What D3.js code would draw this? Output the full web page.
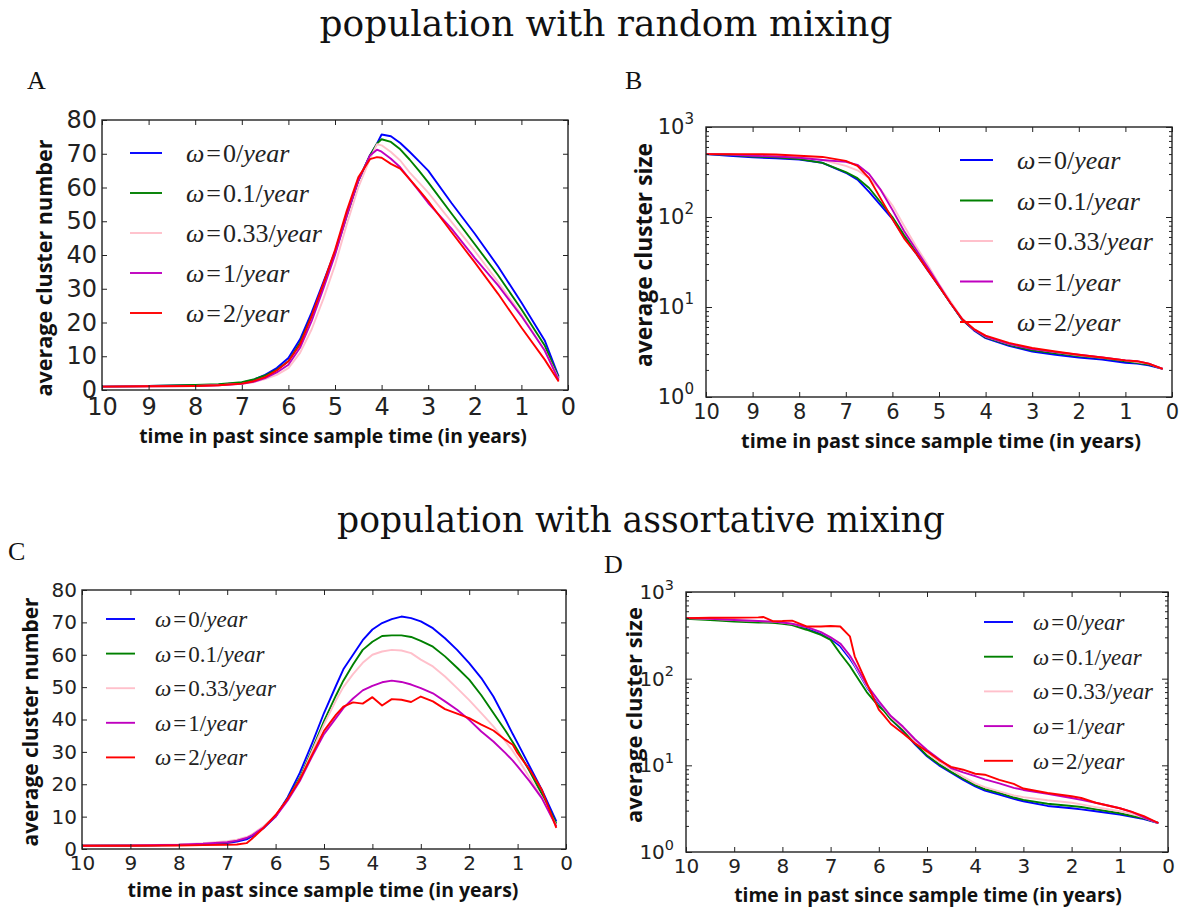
<!DOCTYPE html>
<html><head><meta charset="utf-8">
<script src="https://cdn.jsdelivr.net/npm/d3@7"></script>
<style>body{margin:0;background:#fff} svg{display:block}</style>
</head><body>
<svg id="c" width="1183" height="911"></svg>
<script>
// ---------- data ----------
const omegaValues = ["0", "0.1", "0.33", "1", "2"];
const seriesColors = ["#0000ff", "#008000", "#ffc0cb", "#bf00bf", "#ff0000"];
const xTickValues = [0, 1, 2, 3, 4, 5, 6, 7, 8, 9, 10];
const yTicksLinear = [0, 10, 20, 30, 40, 50, 60, 70, 80];
const yTicksLog = [1, 10, 100, 1000];

// Panel A: random mixing, average cluster number
const timeA = [10, 9, 8, 7.5, 7, 6.75, 6.5, 6.25, 6, 5.75, 5.5, 5.25, 5, 4.75, 4.5, 4.25, 4.1, 4, 3.8, 3.6, 3.4, 3.2, 3, 2.5, 2, 1.5, 1, 0.5, 0.2];
const A_w0   = [1, 1.2, 1.4, 1.6, 2.2, 3, 4.5, 6.5, 9.5, 15, 23, 32, 41, 52, 62, 69.5, 73, 75.7, 75.2, 73.2, 70.6, 67.8, 65, 55.4, 46.3, 36.6, 25.9, 14.7, 4];
const A_w01  = [1, 1.2, 1.5, 1.7, 2.3, 3.1, 4.3, 6, 8.5, 14, 22, 31, 40.5, 51.5, 62, 69.5, 73, 74.3, 73.5, 71.3, 68.3, 65, 61.5, 52.3, 43.2, 34, 23.9, 13.2, 3.6];
const A_w033 = [1, 1.1, 1.2, 1.4, 1.8, 2.3, 3.2, 4.5, 6.5, 11, 18, 27, 37, 49, 60, 68.5, 72.8, 72.5, 70.5, 68, 64.5, 61.5, 58.5, 49.8, 41.2, 32, 22.4, 11.7, 3.3];
const A_w1   = [1, 1.1, 1.2, 1.4, 1.8, 2.4, 3.5, 5.2, 7.5, 12.5, 20.5, 30, 40, 51.5, 62, 69.5, 71.2, 70.6, 68.5, 66, 62.5, 59, 55.4, 47.8, 39.1, 31, 21.9, 11.7, 3];
const A_w2   = [1, 1.1, 1.2, 1.4, 1.9, 2.6, 3.8, 5.8, 8.5, 13.5, 22, 31.5, 41.5, 53, 63, 68.4, 69, 68.8, 67, 65.6, 62.5, 59.3, 56, 46.8, 37.8, 28.5, 18.5, 9, 2.5];

// Panel B: random mixing, average cluster size (log)
const timeB = [10, 9.5, 9, 8.5, 8, 7.5, 7, 6.75, 6.5, 6.25, 6, 5.75, 5.5, 5.25, 5, 4.75, 4.5, 4.25, 4, 3.5, 3, 2.5, 2, 1.5, 1, 0.75, 0.5, 0.2];
const B_w0   = [500, 480, 460, 450, 435, 400, 310, 260, 190, 135, 95, 60, 40, 26, 17, 11, 7.2, 5.5, 4.5, 3.7, 3.2, 2.95, 2.75, 2.6, 2.4, 2.35, 2.25, 2.05];
const B_w01  = [500, 490, 470, 460, 440, 400, 315, 270, 210, 145, 100, 63, 41, 27, 17, 11, 7.2, 5.6, 4.6, 3.8, 3.3, 3.05, 2.85, 2.7, 2.5, 2.4, 2.3, 2.05];
const B_w033 = [500, 500, 490, 490, 470, 430, 370, 330, 270, 200, 135, 80, 48, 30, 18, 11.5, 7.4, 5.7, 4.7, 3.9, 3.45, 3.15, 2.9, 2.75, 2.55, 2.45, 2.35, 2.05];
const B_w1   = [500, 495, 480, 470, 455, 430, 410, 380, 300, 200, 120, 70, 44, 28, 17.5, 11, 7.3, 5.6, 4.7, 3.9, 3.4, 3.15, 2.95, 2.75, 2.55, 2.5, 2.35, 2.05];
const B_w2   = [500, 500, 500, 495, 480, 465, 420, 370, 270, 160, 95, 58, 40, 26, 17, 11, 7.3, 5.7, 4.8, 4.0, 3.5, 3.2, 2.95, 2.75, 2.55, 2.5, 2.35, 2.05];

// Panel C: assortative mixing, average cluster number
const timeC = [10, 9, 8, 7.5, 7, 6.8, 6.6, 6.5, 6.25, 6, 5.75, 5.5, 5.25, 5, 4.75, 4.6, 4.4, 4.2, 4.0, 3.8, 3.6, 3.4, 3.2, 3.0, 2.75, 2.5, 2.25, 2.0, 1.75, 1.5, 1.25, 1.1, 1.0, 0.75, 0.5, 0.2];
const C_w0   = [1, 1.1, 1.2, 1.4, 1.8, 2.3, 3.0, 3.8, 6.4, 10, 16, 23.5, 32.5, 42, 50.5, 55.5, 60, 64.5, 67.8, 69.8, 71, 71.8, 71.3, 70.3, 68.2, 65.1, 61.5, 57.4, 52.8, 47.1, 40, 35.5, 32.7, 25.5, 18.3, 8.5];
const C_w01  = [1, 1.1, 1.3, 1.6, 2.1, 2.7, 3.5, 4.2, 6.8, 10.2, 15.5, 22, 30.5, 39.5, 47.5, 52, 57, 61.5, 64, 65.8, 66, 66, 65.5, 64.3, 62.5, 59.5, 56, 52.3, 47.5, 42, 36.5, 33, 30.5, 24, 17, 7.8];
const C_w033 = [1, 1.1, 1.4, 1.8, 2.4, 2.9, 3.7, 4.4, 7, 10.3, 15.3, 21.5, 30, 38.5, 46, 50, 54, 57.5, 60, 61, 61.5, 61.3, 60.5, 58.5, 56.4, 53.3, 49.7, 46, 42, 37.9, 33.2, 30.3, 28, 22, 16, 7.2];
const C_w1   = [1, 1.1, 1.3, 1.6, 2.1, 2.6, 3.4, 4.1, 6.6, 10, 15, 21, 28.5, 35.5, 40.5, 43.5, 46.5, 49, 50.4, 51.5, 52, 51.6, 50.8, 49.7, 48.1, 45.6, 43, 39.9, 36.3, 33.2, 29.6, 27.3, 25.5, 20.9, 15.7, 7];
const C_w2   = [1, 1, 1.1, 1.2, 1.3, 1.4, 1.8, 3.0, 6.5, 10.5, 15.5, 21.5, 29, 36.5, 41.5, 44, 45.3, 44.9, 46.9, 44.3, 46.3, 46.1, 45.4, 47.1, 45.6, 43.2, 41.8, 40.4, 38.4, 36.6, 33.7, 32.2, 29.6, 24.5, 18.3, 6.5];

// Panel D: assortative mixing, average cluster size (log)
const timeD = [10, 9.5, 9, 8.5, 8.4, 8.2, 8, 7.8, 7.5, 7.2, 7, 6.8, 6.6, 6.5, 6.25, 6, 5.9, 5.75, 5.5, 5.25, 5, 4.75, 4.5, 4.25, 4, 3.8, 3.5, 3.2, 3, 2.5, 2, 1.8, 1.5, 1, 0.75, 0.5, 0.2];
const D_w0   = [500, 485, 467, 455, 452, 447, 438, 425, 384, 330, 290, 236, 170, 140, 80, 52, 44, 34, 25, 17.5, 12.7, 10, 8.2, 6.8, 5.7, 5.1, 4.6, 4.1, 3.85, 3.4, 3.2, 3.1, 2.95, 2.7, 2.55, 2.4, 2.16];
const D_w01  = [490, 475, 455, 445, 443, 440, 430, 415, 367, 320, 280, 195, 140, 115, 70, 48, 43, 34, 25.5, 18, 13, 10.3, 8.4, 7, 5.9, 5.3, 4.8, 4.25, 4.0, 3.6, 3.4, 3.3, 3.1, 2.8, 2.6, 2.45, 2.16];
const D_w033 = [500, 490, 475, 462, 460, 455, 445, 430, 395, 345, 300, 250, 180, 145, 82, 54, 46, 36, 27, 19, 14, 11, 9, 7.4, 6.2, 5.6, 5.0, 4.5, 4.3, 3.95, 3.7, 3.55, 3.3, 2.95, 2.75, 2.5, 2.16];
const D_w1   = [500, 490, 475, 462, 460, 455, 445, 430, 395, 345, 300, 255, 185, 150, 85, 55, 47, 37, 28, 20, 15, 11.8, 9.3, 8.3, 7.5, 6.9, 6.2, 5.5, 5.2, 4.7, 4.2, 4.0, 3.7, 3.2, 2.9, 2.5, 2.16];
const D_w2   = [500, 505, 505, 510, 515, 460, 462, 467, 400, 400, 405, 400, 308, 181, 89, 44, 38, 30, 23.4, 18, 14.5, 11.5, 9.6, 8.9, 8.0, 7.8, 6.8, 6.1, 5.4, 4.8, 4.4, 4.2, 3.7, 3.2, 2.9, 2.6, 2.16];

// ---------- drawing ----------
const svg = d3.select('#c');
const SANS = 'DejaVu Sans, sans-serif';
const BOLD = '"Open Sans", "DejaVu Sans", sans-serif';
const SERIF = '"Liberation Serif", "DejaVu Serif", serif';
const TITLE_SERIF = '"DejaVu Serif", serif';

function fitWidth(sel, target) {
  const len = sel.node().getComputedTextLength();
  const fs = parseFloat(sel.attr('font-size'));
  sel.attr('font-size', (fs * target / len).toFixed(2));
}

// titles
svg.append('text').attr('x', 606).attr('y', 36).attr('text-anchor', 'middle')
  .attr('font-family', TITLE_SERIF).attr('font-size', 34).attr('fill', '#111')
  .text('population with random mixing').call(s => fitWidth(s, 573));
svg.append('text').attr('x', 641).attr('y', 532).attr('text-anchor', 'middle')
  .attr('font-family', TITLE_SERIF).attr('font-size', 34).attr('fill', '#111')
  .text('population with assortative mixing').call(s => fitWidth(s, 608));

[['A', 27, 89], ['B', 625, 89], ['C', 8, 560], ['D', 604, 573]].forEach(([l, x, y]) => {
  svg.append('text').attr('x', x).attr('y', y).attr('font-family', SERIF)
    .attr('font-size', 26).attr('fill', '#111').text(l);
});

const panels = [
  { t: timeA, s: [A_w0, A_w01, A_w033, A_w1, A_w2], log: false, box: [102, 568, 120, 390], tickFs: 24,
    xt: { x: 333, y: 443, w: 388 }, yt: { x: 43, y: 268, w: 257, label: 'average cluster number' },
    lg: { x0: 130, x1: 162, tx: 186, y0: 153, dy: 40, w: 132 } },
  { t: timeB, s: [B_w0, B_w01, B_w033, B_w1, B_w2], log: true, box: [706, 1172, 127, 397], tickFs: 21,
    xt: { x: 941, y: 448, w: 400 }, yt: { x: 643, y: 255, w: 224, label: 'average cluster size' },
    lg: { x0: 960, x1: 993, tx: 1017, y0: 160, dy: 40.5, w: 132 } },
  { t: timeC, s: [C_w0, C_w01, C_w033, C_w1, C_w2], log: false, box: [82, 566, 590, 849], tickFs: 20,
    xt: { x: 323, y: 897, w: 391 }, yt: { x: 30, y: 722, w: 249, label: 'average cluster number' },
    lg: { x0: 106, x1: 135, tx: 155, y0: 619, dy: 34.6, w: 117 } },
  { t: timeD, s: [D_w0, D_w01, D_w033, D_w1, D_w2], log: true, box: [686, 1168, 592, 852], tickFs: 20,
    xt: { x: 928, y: 902, w: 388 }, yt: { x: 633, y: 715, w: 216, label: 'average cluster size' },
    lg: { x0: 984, x1: 1013, tx: 1033, y0: 622, dy: 34.7, w: 116 } }
];

panels.forEach(p => {
  const [x0, x1, y0, y1] = p.box;
  const x = d3.scaleLinear().domain([10, 0]).range([x0, x1]);
  const y = p.log ? d3.scaleLog().domain([1, 1000]).range([y1, y0])
                  : d3.scaleLinear().domain([0, 80]).range([y1, y0]);
  const g = svg.append('g');

  // lines
  const line = d3.line().x((d, j) => x(p.t[j])).y(d => y(d));
  p.s.forEach((vals, i) => {
    g.append('path').attr('d', line(vals)).attr('fill', 'none')
      .attr('stroke', seriesColors[i]).attr('stroke-width', 1.9)
      .attr('stroke-linejoin', 'round');
  });

  const styleAxis = a => {
    a.select('.domain').remove();
    a.selectAll('line').attr('stroke', '#222').attr('stroke-width', 1);
    a.selectAll('text').attr('font-family', SANS).attr('font-size', p.tickFs).attr('fill', '#222');
  };

  // x axes
  g.append('g').attr('transform', `translate(0,${y1})`)
    .call(d3.axisBottom(x).tickValues(xTickValues).tickSizeInner(-5).tickSizeOuter(0).tickPadding(p.tickFs * 0.35).tickFormat(d3.format('d')))
    .call(styleAxis);
  g.append('g').attr('transform', `translate(0,${y0})`)
    .call(d3.axisTop(x).tickValues(xTickValues).tickSizeInner(-5).tickSizeOuter(0).tickFormat(''))
    .call(styleAxis);

  // y axes
  if (!p.log) {
    g.append('g').attr('transform', `translate(${x0},0)`)
      .call(d3.axisLeft(y).tickValues(yTicksLinear).tickSizeInner(-5).tickSizeOuter(0).tickPadding(5).tickFormat(d3.format('d')))
      .call(styleAxis);
    g.append('g').attr('transform', `translate(${x1},0)`)
      .call(d3.axisRight(y).tickValues(yTicksLinear).tickSizeInner(-5).tickSizeOuter(0).tickFormat(''))
      .call(styleAxis);
  } else {
    const minor = [];
    [1, 10, 100].forEach(b => { for (let k = 2; k <= 9; k++) minor.push(b * k); });
    const la = g.append('g').attr('transform', `translate(${x0},0)`)
      .call(d3.axisLeft(y).tickValues(yTicksLog).tickSizeInner(-6).tickSizeOuter(0).tickPadding(12).tickFormat(() => '10'))
      .call(styleAxis);
    la.selectAll('.tick text').each(function (d) {
      d3.select(this).append('tspan').attr('dy', '-0.65em').attr('font-size', p.tickFs * 0.72)
        .text(Math.round(Math.log10(d)));
    });
    g.append('g').attr('transform', `translate(${x0},0)`)
      .call(d3.axisLeft(y).tickValues(minor).tickSizeInner(-3).tickSizeOuter(0).tickFormat(''))
      .call(styleAxis);
    g.append('g').attr('transform', `translate(${x1},0)`)
      .call(d3.axisRight(y).tickValues(yTicksLog).tickSizeInner(-6).tickSizeOuter(0).tickFormat(''))
      .call(styleAxis);
    g.append('g').attr('transform', `translate(${x1},0)`)
      .call(d3.axisRight(y).tickValues(minor).tickSizeInner(-3).tickSizeOuter(0).tickFormat(''))
      .call(styleAxis);
  }

  // frame
  g.append('rect').attr('x', x0).attr('y', y0).attr('width', x1 - x0).attr('height', y1 - y0)
    .attr('fill', 'none').attr('stroke', '#222').attr('stroke-width', 1.4);

  // axis titles
  g.append('text').attr('x', p.xt.x).attr('y', p.xt.y).attr('text-anchor', 'middle')
    .attr('font-family', BOLD).attr('font-weight', 'bold').attr('font-size', 17).attr('fill', '#111')
    .text('time in past since sample time (in years)').call(s => fitWidth(s, p.xt.w));
  g.append('text').attr('transform', `translate(${p.yt.x},${p.yt.y}) rotate(-90)`)
    .attr('text-anchor', 'middle').attr('dominant-baseline', 'central')
    .attr('font-family', BOLD).attr('font-weight', 'bold').attr('font-size', 17).attr('fill', '#111')
    .text(p.yt.label).call(s => fitWidth(s, p.yt.w));

  // legend
  const lgTexts = [];
  omegaValues.forEach((v, i) => {
    const yy = p.lg.y0 + i * p.lg.dy;
    g.append('line').attr('x1', p.lg.x0).attr('x2', p.lg.x1).attr('y1', yy).attr('y2', yy)
      .attr('stroke', seriesColors[i]).attr('stroke-width', 1.9);
    const t = g.append('text').attr('x', p.lg.tx).attr('y', yy).attr('dy', '0.35em')
      .attr('font-family', SERIF).attr('font-size', 22).attr('fill', '#222');
    t.append('tspan').attr('font-style', 'italic').text('ω');
    t.append('tspan').attr('dx', 2).text('=');
    t.append('tspan').attr('dx', 2).text(v + '/');
    t.append('tspan').attr('font-style', 'italic').text('year');
    lgTexts.push(t);
  });
  const ref = lgTexts[2].node().getComputedTextLength();
  const fs = 22 * p.lg.w / ref;
  lgTexts.forEach(t => t.attr('font-size', fs.toFixed(2)));
});
</script>
</body></html>
